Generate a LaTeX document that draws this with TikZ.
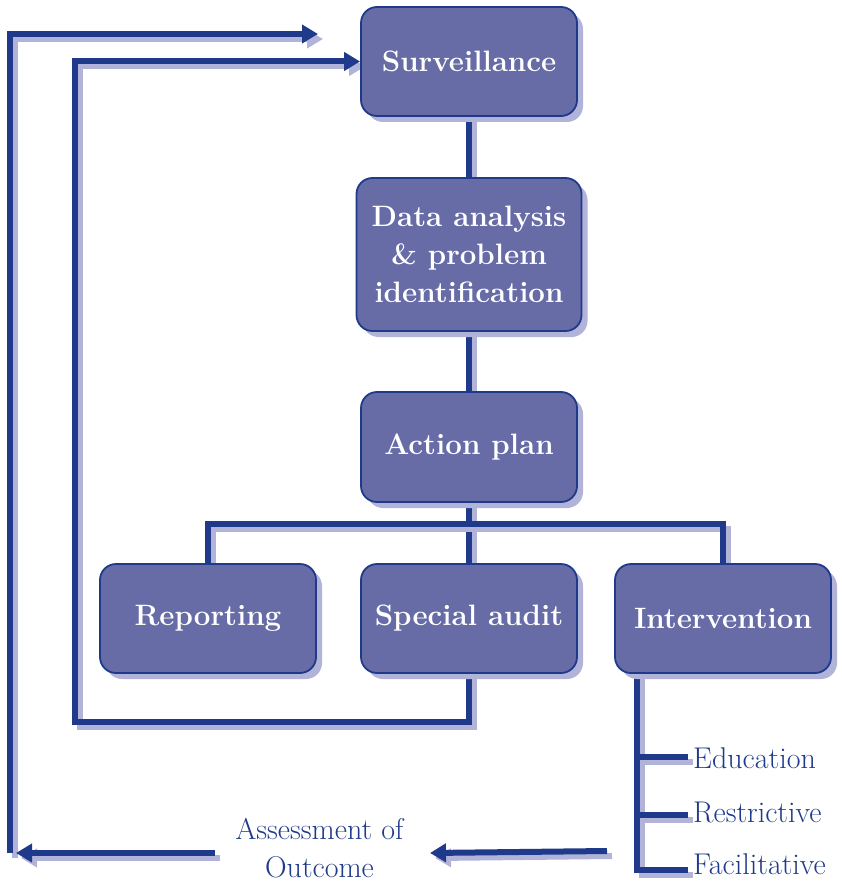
\documentclass[tikz,border=0pt]{standalone}
\usepackage{fontspec}
\usetikzlibrary{arrows.meta,shadows,backgrounds}

\definecolor{navy}{RGB}{31,58,138}
\definecolor{boxfill}{RGB}{103,108,166}
\definecolor{shade}{RGB}{177,180,216}

% draw a connector with its offset light shadow underneath
\newcommand\linkpath[2][]{%
  \draw[link,draw=shade,#1,transform canvas={shift={(5pt,-5pt)}}] #2;
  \draw[link,#1] #2;}

\begin{document}
\begin{tikzpicture}[x=1pt,y=-1pt,
  box/.style={draw=navy, line width=1.8pt, fill=boxfill, rounded corners=16pt,
    text=white, font=\fontsize{29.5}{38}\selectfont\bfseries, align=center,
    minimum width=216pt, minimum height=109pt, inner sep=0pt,
    drop shadow={shadow xshift=6pt, shadow yshift=-6pt, fill=shade, opacity=1}},
  lbl/.style={text=navy, font=\fontsize{30}{38}\selectfont, inner sep=0pt},
  link/.style={draw=navy, line width=6pt, line cap=butt, line join=miter},
  tip/.style={-{Triangle[length=16pt,width=18pt]}}]

\useasboundingbox (0,0) rectangle (841,885);

% process boxes
\node[box] (surv) at (469,61.5) {Surveillance};
\node[box, minimum width=225pt, minimum height=153pt] (data) at (469,254.5)
  {Data analysis\\\& problem\\identification};
\node[box, minimum height=110pt] (ap) at (469,447) {Action plan};
\node[box] (rep) at (208,618.5) {Reporting};
\node[box] (sa) at (469,618.5) {Special audit};
\node[box] (int) at (723,618.5) {Intervention};

% intervention types
\node[lbl, anchor=base west] (edu) at (693,768) {Education};
\node[lbl, anchor=base west] (res) at (693,822) {Restrictive};
\node[lbl, anchor=base west] (fac) at (693,874) {Facilitative};

\node[lbl, align=center] (assess) at (319.5,848) {Assessment of\\Outcome};

% junctions and free ends
\coordinate (bar) at (469,524);
\coordinate (ib) at (74.5,722);
\coordinate (ob) at (10,853);
\coordinate (ot) at (10,34);
\coordinate (otip) at (318,34);
\coordinate (trunk) at (636.5,673);
\coordinate (b1) at (636.5,757);
\coordinate (b2) at (636.5,814.5);
\coordinate (b3) at (636.5,869.5);
\coordinate (aR) at (607,851);
\coordinate (aRtip) at (430,853);
\coordinate (aL) at (215,853);
\coordinate (aLtip) at (16,853);

\begin{scope}[on background layer]
  \linkpath{(surv.south) -- (data.north)}
  \linkpath{(data.south) -- (ap.north)}
  \linkpath{(ap.south) -- (sa.north)}
  \linkpath{(rep.north) -- (rep.north |- bar) -- (int.north |- bar) -- (int.north)}
  % feedback from the special audit
  \linkpath[tip]{(sa.south) |- (ib) |- (surv.west)}
  % outer feedback loop
  \linkpath[tip]{(ob) -- (ot) -- (otip)}
  % intervention branches
  \linkpath{(trunk) |- ([xshift=-5pt]b3 -| fac.west)}
  \linkpath{(b1) -- ([xshift=-5pt]b1 -| edu.west)}
  \linkpath{(b2) -- ([xshift=-5pt]b2 -| res.west)}
  % outcome arrows
  \linkpath[tip]{(aR) -- (aRtip)}
  \linkpath[tip]{(aL) -- (aLtip)}
\end{scope}
\end{tikzpicture}
\end{document}
